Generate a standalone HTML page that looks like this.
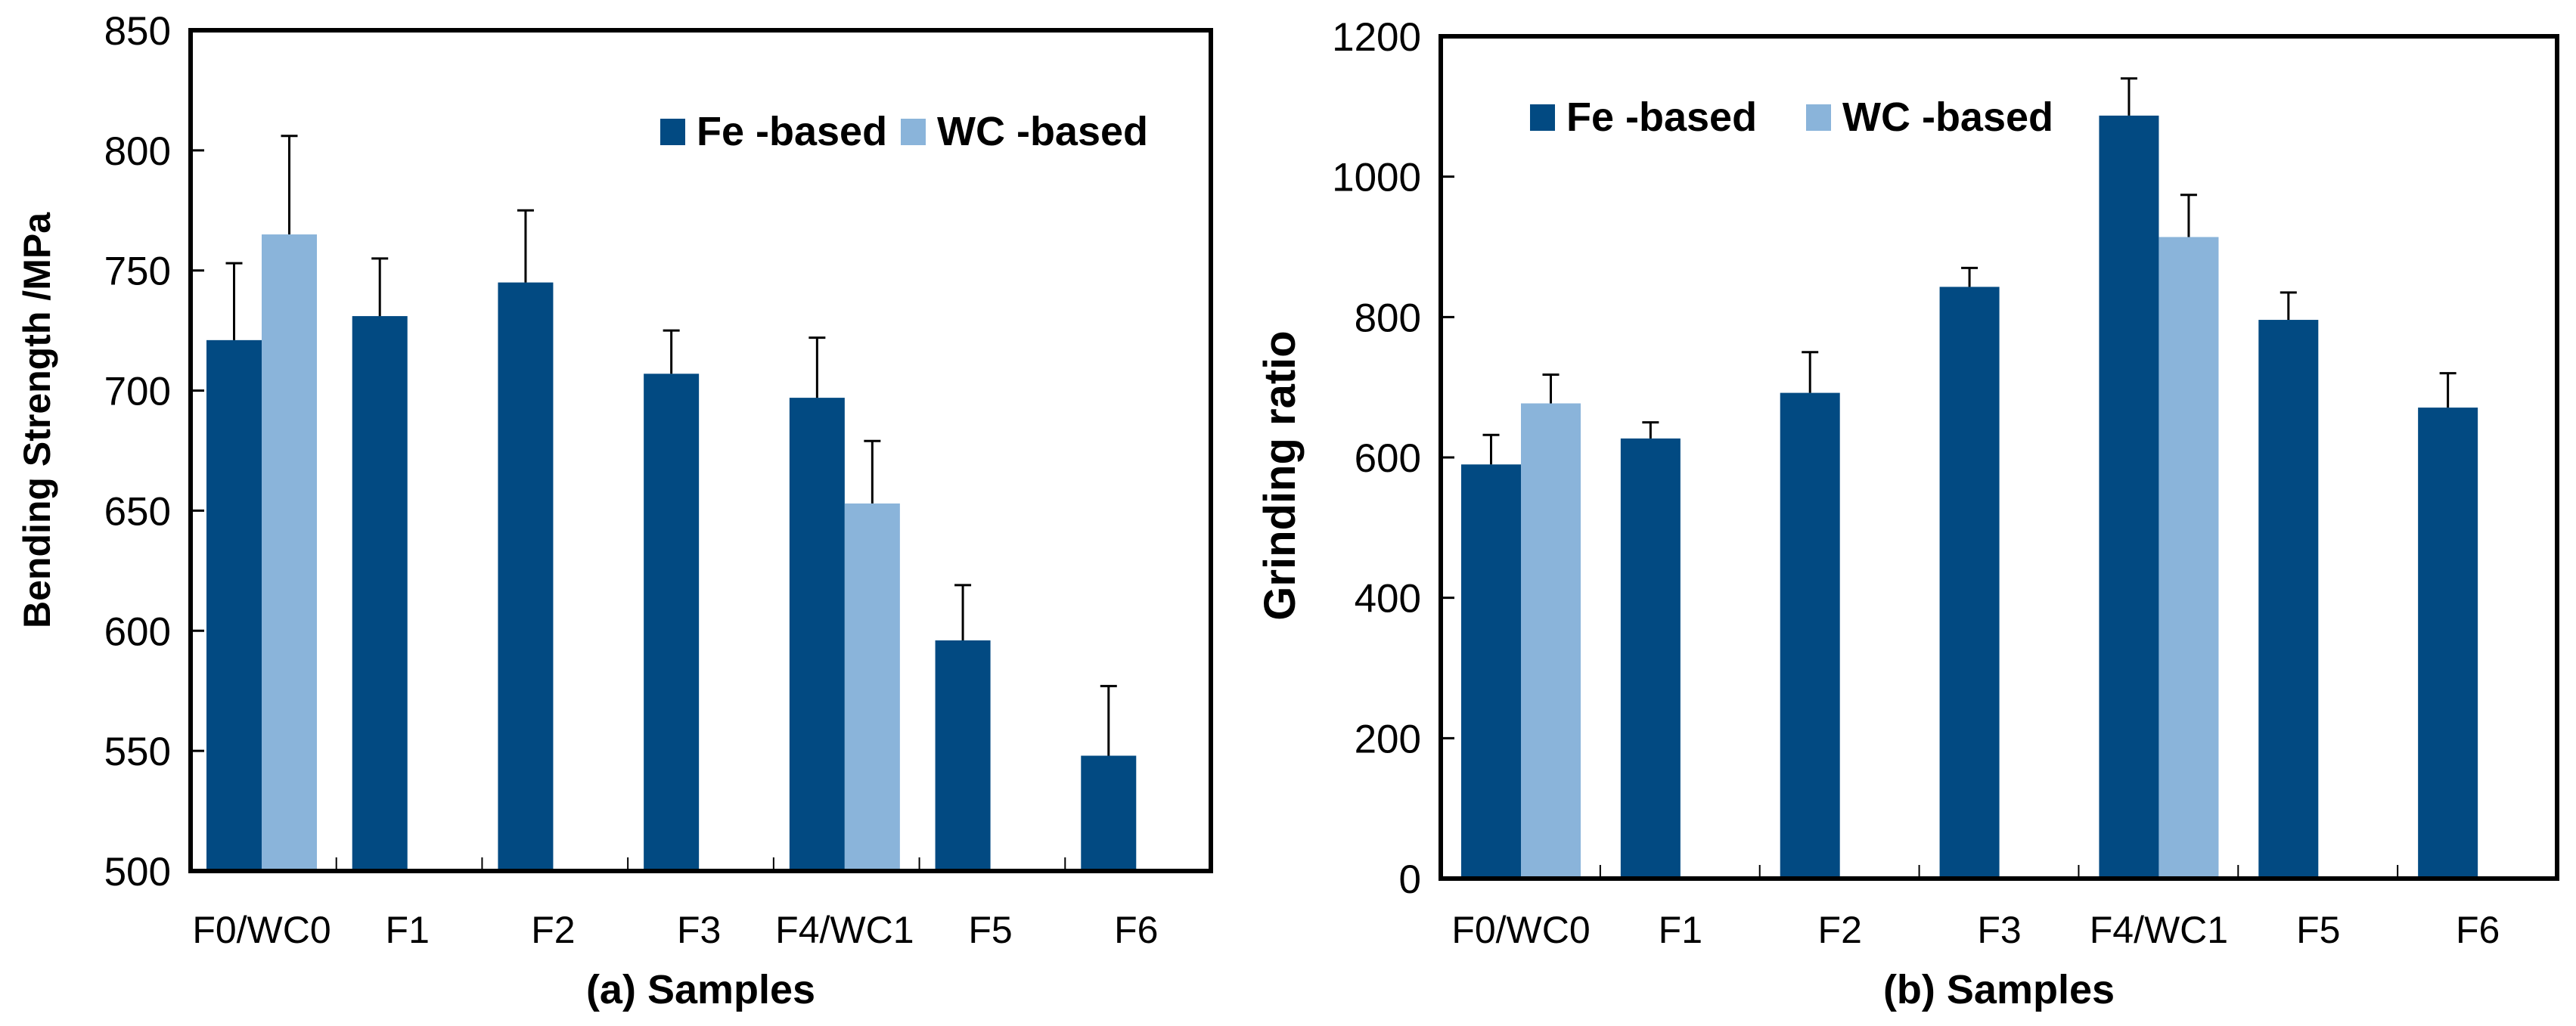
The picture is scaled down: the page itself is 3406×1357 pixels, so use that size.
<!DOCTYPE html>
<html><head><meta charset="utf-8"><style>
html,body{margin:0;padding:0;background:#fff;}
svg{display:block;font-family:"Liberation Sans",Arial,sans-serif;}
</style></head><body>
<svg id="chart" width="3406" height="1357" viewBox="0 0 3406 1357" xmlns="http://www.w3.org/2000/svg"></svg>
<script>
const categories = ["F0/WC0","F1","F2","F3","F4/WC1","F5","F6"];
const feStrength = [721,731,745,707,697,596,548];
const feStrengthErr = [753,755,775,725,722,619,577];
const wcStrength = [765,null,null,null,653,null,null];
const wcStrengthErr = [806,null,null,null,679,null,null];
const strengthTicks = [500,550,600,650,700,750,800,850];
const feRatio = [590,627,692,843,1087,796,671];
const feRatioErr = [632,650,750,870,1140,835,720];
const wcRatio = [677,null,null,null,914,null,null];
const wcRatioErr = [718,null,null,null,974,null,null];
const ratioTicks = [0,200,400,600,800,1000,1200];

const NS="http://www.w3.org/2000/svg";
const svg=document.getElementById('chart');
function mk(tag,attrs,parent){const e=document.createElementNS(NS,tag);for(const k in attrs)e.setAttribute(k,attrs[k]);(parent||svg).appendChild(e);return e;}
const DARK="#024a82", LIGHT="#8ab4da";

function drawPanel(p){
  const g=mk('g',{});
  
  
  const y=v=>p.bottom-(v-p.min)/(p.max-p.min)*(p.bottom-p.top);
  const gw=(p.right-p.left)/categories.length;
  p.ticks.forEach(t=>{
    const l=mk('line',{x1:p.left,x2:p.left+18,y1:y(t),y2:y(t),stroke:'#000','stroke-width':3},g);
    
    
    const tx=mk('text',{x:p.left-26,y:y(t)+19,'text-anchor':'end','font-size':53,fill:'#000'},g);
    tx.textContent=t;
    
    
  });
  for(let i=1;i<categories.length;i++){
    const l=mk('line',{x1:p.left+gw*i,x2:p.left+gw*i,y1:p.bottom,y2:p.bottom-18,stroke:'#000','stroke-width':2},g);
    
    
  }
  const drawBar=(x,v,e,color,nm)=>{
    const r=mk('rect',{x:x,y:y(v),width:p.bw,height:p.bottom-y(v),fill:color},g);
    
    
    const cx=x+p.bw/2;
    const el=mk('line',{x1:cx,x2:cx,y1:y(v),y2:y(e),stroke:'#000','stroke-width':3},g);
    
    
    const cap=mk('line',{x1:cx-11,x2:cx+11,y1:y(e),y2:y(e),stroke:'#000','stroke-width':3},g);
    
    
  };
  categories.forEach((c,i)=>{
    const x0=p.left+gw*i+p.off;
    drawBar(x0,p.fe[i],p.feE[i],DARK,'bar-fe-'+c.toLowerCase().replace('/','-'));
    if(p.wc[i]!=null) drawBar(x0+p.bw,p.wc[i],p.wcE[i],LIGHT,'bar-wc-'+c.toLowerCase().replace('/','-'));
    const t=mk('text',{x:x0+p.bw,y:p.labY,'text-anchor':'middle','font-size':50,fill:'#000'},g);
    t.textContent=c;
    
    
  });
  const box=mk('rect',{x:p.left,y:p.top,width:p.right-p.left,height:p.bottom-p.top,fill:'none',stroke:'#000','stroke-width':6},g);
  
  
  const xt=mk('text',{x:(p.left+p.right)/2,y:p.titleY,'text-anchor':'middle','font-size':54,'font-weight':'bold',fill:'#000'},g);
  xt.textContent=p.xTitle;
  
  
  const yt=mk('text',{x:0,y:0,'text-anchor':'middle','font-size':p.ytSize,'font-weight':'bold',fill:'#000',transform:`translate(${p.ytX},${p.ytY}) rotate(-90)`},g);
  yt.textContent=p.yTitle;
  
  
  const lg=mk('g',{},g);
  
  
  [[p.lg[0],DARK,'Fe -based'],[p.lg[1],LIGHT,'WC -based']].forEach(([lx,col,txt])=>{
    const s=mk('rect',{x:lx,y:p.lgY-35,width:33,height:35,fill:col},lg);
    
    
    const t=mk('text',{x:lx+48,y:p.lgY,'font-size':54,'font-weight':'bold',fill:'#000'},lg);
    t.textContent=txt;
    
    
  });
}

drawPanel({name:'bending-strength-chart',left:252,right:1601,top:40,bottom:1152,min:500,max:850,ticks:strengthTicks,
  fe:feStrength,feE:feStrengthErr,wc:wcStrength,wcE:wcStrengthErr,bw:73,off:21,labY:1247,titleY:1327,
  xTitle:'(a) Samples',yTitle:'Bending Strength /MPa',ytX:66,ytY:556,ytSize:50,lg:[873,1191],lgY:192});
drawPanel({name:'grinding-ratio-chart',left:1905,right:3381,top:48,bottom:1162,min:0,max:1200,ticks:ratioTicks,
  fe:feRatio,feE:feRatioErr,wc:wcRatio,wcE:wcRatioErr,bw:79,off:27,labY:1247,titleY:1327,
  xTitle:'(b) Samples',yTitle:'Grinding ratio',ytX:1712,ytY:629,ytSize:58,lg:[2023,2388],lgY:173});
</script>
</body></html>
